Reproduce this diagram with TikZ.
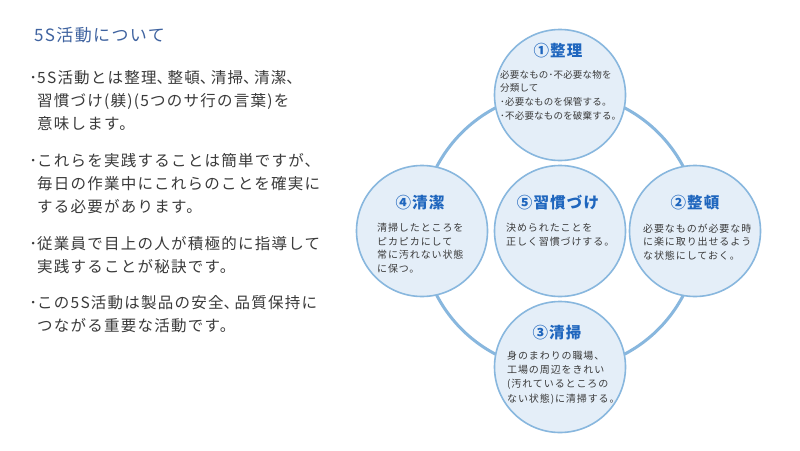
\documentclass[tikz,border=0pt]{standalone}
\usepackage{fontspec}
\setmainfont{Noto Sans CJK JP}
\newfontfamily\lefttxt[LetterSpace=8]{Noto Sans CJK JP}
\newfontfamily\bodytxt[LetterSpace=9]{Noto Sans CJK JP}
\newfontfamily\toptxt[LetterSpace=2]{Noto Sans CJK JP}
\newfontfamily\titletxt[LetterSpace=8]{Noto Sans CJK JP}
\newcommand\narrowtou{\makebox[11pt][l]{、}}
\definecolor{ringblue}{HTML}{88B7DE}
\definecolor{bubblefill}{HTML}{E4EEF8}
\definecolor{titleblue}{HTML}{1F66BE}
\definecolor{headblue}{HTML}{3F63A0}
\definecolor{bodygray}{HTML}{3A3A3A}
\tikzset{
  bubble/.style={circle, draw=ringblue, fill=bubblefill, line width=1.6pt, minimum size=131pt, inner sep=0pt},
  ctitle/.style={text=titleblue, font=\titletxt\bfseries\fontsize{15.5}{18}\selectfont, anchor=base, inner sep=0pt},
  cbody/.style={text=bodygray, font=\bodytxt\fontsize{10}{13.5}\selectfont, align=left, anchor=base west, inner sep=0pt},
  para/.style={text=bodygray, font=\lefttxt\fontsize{15.5}{22.7}\selectfont, align=left, anchor=base west, inner sep=0pt}
}
\begin{document}
\begin{tikzpicture}[x=1pt,y=-1pt]
\useasboundingbox[fill=white] (0,0) rectangle (800,450);
% left column (anchor = baseline of last line)
\node[text=headblue, font=\lefttxt\fontsize{17}{20}\selectfont, anchor=base west, inner sep=0pt] (head) at (34,41) {5S活動について};
\node[para] (p1) at (37,129) {\llap{･}5S活動とは整理\narrowtou 整頓\narrowtou 清掃\narrowtou 清潔\narrowtou\\習慣づけ(躾)(5つのサ行の言葉)を\\意味します。};
\node[para] (p2) at (37,212) {\llap{･}これらを実践することは簡単ですが、\\毎日の作業中にこれらのことを確実に\\する必要があります。};
\node[para] (p3) at (37,272) {\llap{･}従業員で目上の人が積極的に指導して\\実践することが秘訣です。};
\node[para] (p4) at (37,331) {\llap{･}この5S活動は製品の安全\narrowtou 品質保持に\\つながる重要な活動です。};
% ring
\coordinate (ctr) at (560,231);
\draw[ringblue, line width=3pt] (ctr) circle (139pt);
% bubbles
\node[bubble] (c1) at (560,95) {};
\node[bubble] (c4) at (422,231) {};
\node[bubble] (c5) at (560,231) {};
\node[bubble] (c2) at (695,231) {};
\node[bubble] (c3) at (560,367) {};
% titles
\node[ctitle] (t1) at (558,56) {①整理};
\node[ctitle] (t4) at (420,208) {④清潔};
\node[ctitle] (t5) at (558,208) {⑤習慣づけ};
\node[ctitle] (t2) at (695,208) {②整頓};
\node[ctitle] (t3) at (557,338) {③清掃};
% bodies (anchor = baseline of last line)
\node[cbody, font=\toptxt\fontsize{9.5}{13.6}\selectfont] (b1) at (500,119) {必要なもの･不必要な物を\\分類して\\･必要なものを保管する。\\･不必要なものを破棄する。};
\node[cbody] (b4) at (377,272) {清掃したところを\\ピカピカにして\\常に汚れない状態\\に保つ。};
\node[cbody] (b5) at (506,245) {決められたことを\\正しく習慣づけする。};
\node[cbody] (b2) at (643,259) {必要なものが必要な時\\に楽に取り出せるよう\\な状態にしておく。};
\node[cbody, font=\bodytxt\fontsize{10}{14.2}\selectfont] (b3) at (507,402) {身のまわりの職場、\\工場の周辺をきれい\\(汚れているところの\\ない状態)に清掃する。};
\end{tikzpicture}
\end{document}
